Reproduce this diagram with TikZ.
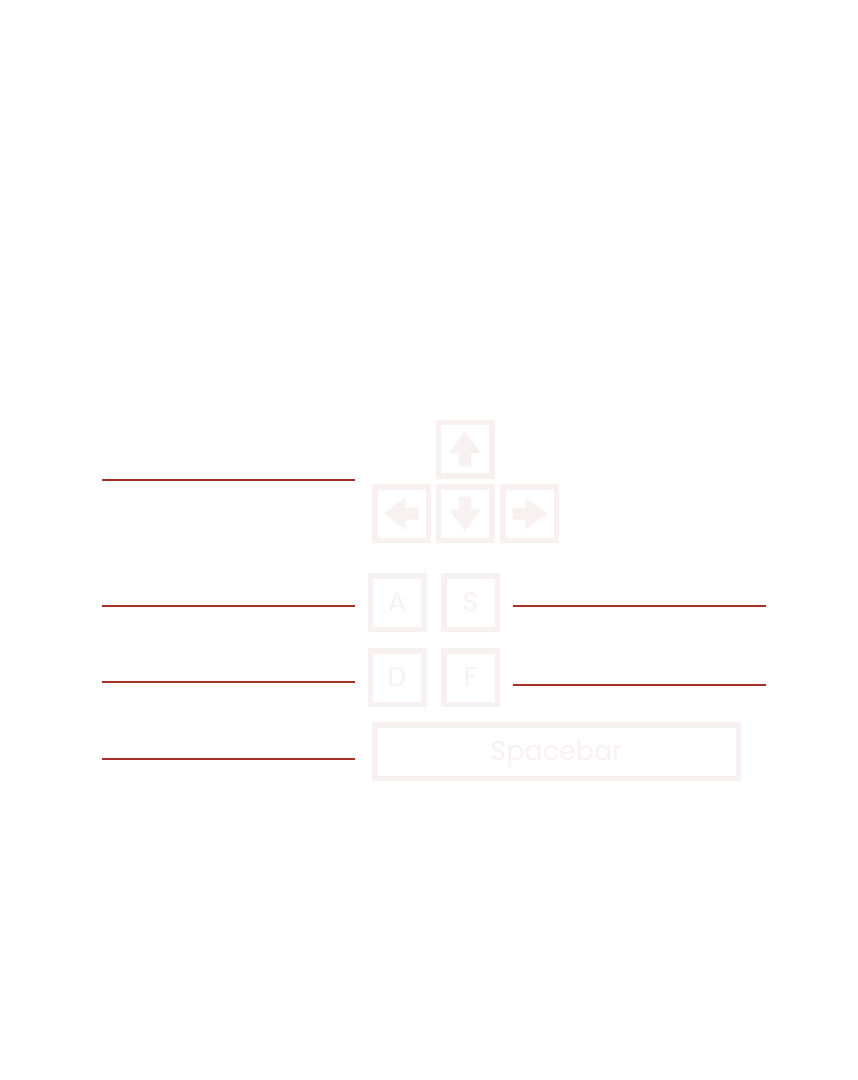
\documentclass[tikz,border=0pt]{standalone}
\usepackage{fontspec}
\setmainfont{Poppins}
\definecolor{keyc}{HTML}{F7F2F1}
\definecolor{keytext}{HTML}{F8F0F2}
\definecolor{linec}{HTML}{A82E27}
\tikzset{
  keybox/.style={draw=keyc, line width=5.5pt, rectangle, minimum width=53.5pt, minimum height=53.5pt, inner sep=0pt, text=keytext, font=\fontsize{27}{27}\selectfont},
  redline/.style={draw=linec, line width=2.2pt},
  pics/keyarrow/.style={code={
    \fill[keyc] (0,-18) -- (16,4) -- (6,4) -- (6,17) -- (-6,17) -- (-6,4) -- (-16,4) -- cycle;
  }}
}
\begin{document}
\begin{tikzpicture}[x=1pt,y=-1pt]
\useasboundingbox[fill=white] (0,0) rectangle (858,1080);
% arrow keys
\node[keybox] (up) at (465,449) {};
\node[keybox] (left) at (401.5,513.5) {};
\node[keybox] (down) at (465,513.5) {};
\node[keybox] (right) at (529.5,513.5) {};
\pic at (up.center) {keyarrow};
\pic[rotate=90] at (left.center) {keyarrow};
\pic[rotate=180] at (down.center) {keyarrow};
\pic[rotate=-90] at (right.center) {keyarrow};
% letter keys
\node[keybox] (a) at (397,602.5) {A};
\node[keybox] (s) at (470.5,602.5) {S};
\node[keybox] (d) at (397,677.5) {D};
\node[keybox] (f) at (470.5,677.5) {F};
% spacebar
\node[keybox, minimum width=363.5pt, text depth=2pt] (space) at (556.5,751.5) {Spacebar};
% lines
\coordinate (l1a) at (102,480); \coordinate (l1b) at (355,480);
\coordinate (l2a) at (102,606); \coordinate (l2b) at (355,606);
\coordinate (l3a) at (102,682); \coordinate (l3b) at (355,682);
\coordinate (l4a) at (102,759); \coordinate (l4b) at (355,759);
\coordinate (r1a) at (513,606); \coordinate (r1b) at (766,606);
\coordinate (r2a) at (513,685); \coordinate (r2b) at (766,685);
\draw[redline] (l1a) -- (l1b);
\draw[redline] (l2a) -- (l2b);
\draw[redline] (l3a) -- (l3b);
\draw[redline] (l4a) -- (l4b);
\draw[redline] (r1a) -- (r1b);
\draw[redline] (r2a) -- (r2b);
\end{tikzpicture}
\end{document}
